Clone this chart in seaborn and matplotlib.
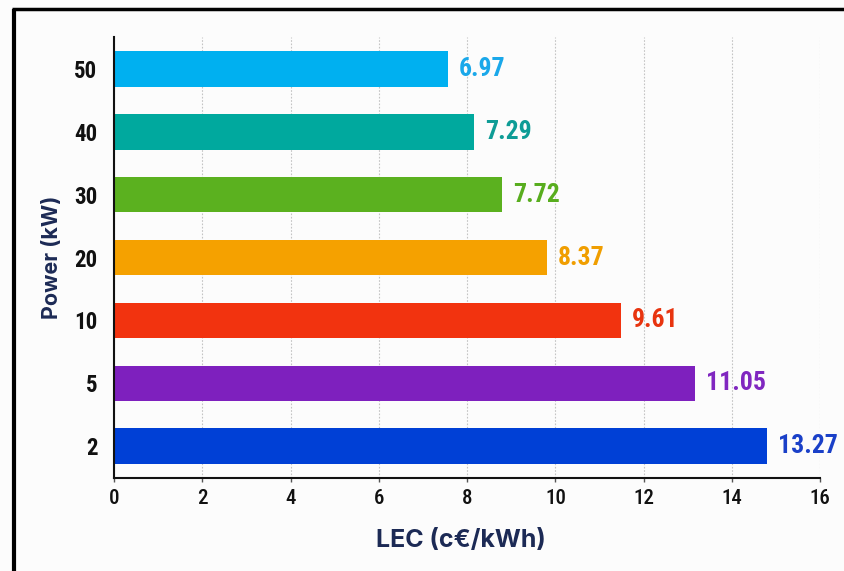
import matplotlib
matplotlib.use("Agg")
import matplotlib.pyplot as plt
import seaborn as sns
import pandas as pd
from matplotlib.lines import Line2D

# ---- data ----
powers = ["50", "40", "30", "20", "10", "5", "2"]
bar_lengths = [7.56, 8.16, 8.79, 9.80, 11.49, 13.16, 14.78]
value_labels = ["6.97", "7.29", "7.72", "8.37", "9.61", "11.05", "13.27"]
bar_colors = ["#00B0F0", "#00A99E", "#5BB11F", "#F5A100", "#F2330F", "#7E20BE", "#0040D6"]
label_colors = ["#1AA8EA", "#0E9C96", "#58AD1E", "#F09E00", "#E8340F", "#8027C0", "#1A40C8"]
x_ticks = [0, 2, 4, 6, 8, 10, 12, 14, 16]

df = pd.DataFrame({"power": powers, "lec": bar_lengths})

sns.set_theme(style="white")
COND = ["Roboto Condensed", "Liberation Sans", "DejaVu Sans"]
REG = ["Inter", "Liberation Sans", "DejaVu Sans"]
plt.rcParams["font.family"] = REG

fig = plt.figure(figsize=(8.44, 5.71), dpi=100, facecolor="#FCFCFC")
ax = fig.add_axes([0.135, 0.163, 0.837, 0.772])
ax.set_facecolor("#FCFCFC")

sns.barplot(data=df, x="lec", y="power", hue="power", order=powers, hue_order=powers,
            palette=bar_colors, orient="h", width=0.57, legend=False, ax=ax,
            saturation=1, edgecolor="none")

ax.set_xlim(0, 16)
ax.set_xticks(x_ticks)
ax.set_xticklabels([str(t) for t in x_ticks], family=COND, fontsize=15,
                   color="#111111", fontweight=500)
ax.set_yticks(range(len(powers)))
ax.set_yticklabels(powers, family=COND, fontsize=16.5, fontweight="bold", color="#111111")

ax.grid(axis="x", linestyle=(0, (1.5, 1.5)), color="#C4C4C4", linewidth=0.8)
ax.set_axisbelow(True)
for s in ["top", "right"]:
    ax.spines[s].set_visible(False)
for s in ["left", "bottom"]:
    ax.spines[s].set_color("#111111")
    ax.spines[s].set_linewidth(1.5)
ax.tick_params(axis="x", which="major", bottom=True, length=3, width=1, color="#555555", pad=5)
ax.tick_params(axis="y", left=False, length=0, pad=12)

for i, (v, lab, c) in enumerate(zip(bar_lengths, value_labels, label_colors)):
    ax.annotate(lab, xy=(v, i), xytext=(8, 0), textcoords="offset points",
                ha="left", va="center", fontsize=18.5, fontweight="bold",
                family=COND, color=c)

ax.set_xlabel("LEC (c€/kWh)", fontsize=18, fontweight="bold", color="#1C2A55", labelpad=12)
ax.xaxis.set_label_coords(0.491, -0.115)
ax.set_ylabel("Power (kW)", fontsize=15.5, fontweight="bold", color="#1C2A55", labelpad=9)

# outer frame (left and top edges)
fig.add_artist(Line2D([0.0165, 0.0165], [0.0, 0.985], transform=fig.transFigure,
                      color="black", linewidth=3, solid_capstyle="butt"))
fig.add_artist(Line2D([0.0145, 1.0], [0.984, 0.984], transform=fig.transFigure,
                      color="black", linewidth=2.5, solid_capstyle="butt"))

fig.savefig("out.png", dpi=100, facecolor=fig.get_facecolor())
